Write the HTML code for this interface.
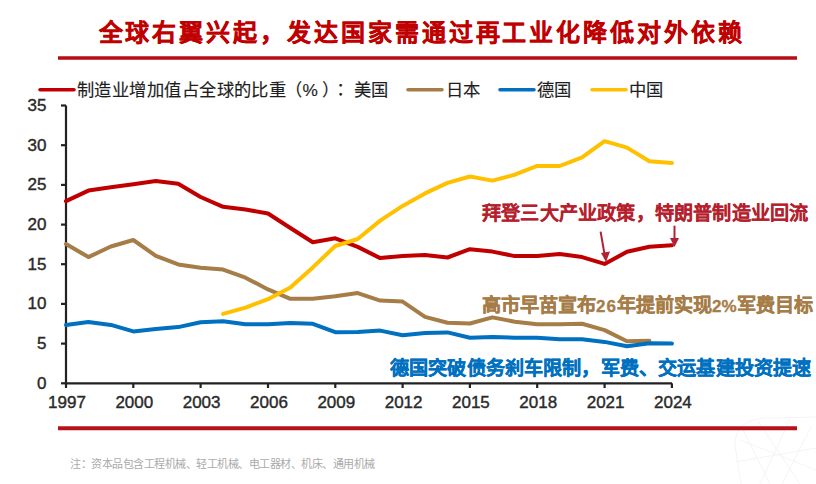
<!DOCTYPE html>
<html lang="zh-CN"><head><meta charset="utf-8"><style>
html,body{margin:0;padding:0;background:#fff;width:816px;height:484px;overflow:hidden}
svg{display:block}
#w{width:816px;height:484px}
text{font-family:"Liberation Sans",sans-serif;text-spacing-trim:space-all}
</style></head><body><div id="w">
<svg width="816" height="484" viewBox="0 0 816 484">
<text x="98.5" y="40.8" font-size="24" font-weight="bold" fill="#C00000" stroke="#C00000" stroke-width="0.3" letter-spacing="2.93">全球右翼兴起，发达国家需通过再工业化降低对外依赖</text>
<line x1="58" y1="58" x2="797" y2="58" stroke="#B50C15" stroke-width="3.4"/>
<g stroke-width="3.6" stroke-linecap="round">
<line x1="40" y1="89.7" x2="74" y2="89.7" stroke="#C00000"/>
<line x1="408" y1="89.7" x2="442" y2="89.7" stroke="#A67C47"/>
<line x1="500" y1="89.7" x2="534" y2="89.7" stroke="#0070C0"/>
<line x1="592" y1="89.7" x2="626" y2="89.7" stroke="#FFC000"/>
</g>
<g font-size="17.3" fill="#1e1e1e" stroke="#1e1e1e" stroke-width="0.15">
<text x="77" y="96.2" letter-spacing="0.45">制造业增加值占全球的比重</text>
<text x="285" y="96.2">（</text>
<text x="302.5" y="96.2">%</text>
<text x="321.5" y="96.2">）</text>
<text x="331.5" y="96.2" lang="zh-TW">：</text>
<text x="354" y="96.2">美国</text>
<text x="446" y="96.2">日本</text>
<text x="537" y="96.2">德国</text>
<text x="629" y="96.2">中国</text>
</g>
<g stroke="#222" stroke-width="2.2" fill="none">
<polyline points="66,105.5 66,383.3 672,383.3"/>
<line x1="61" y1="383.3" x2="66" y2="383.3"/><line x1="61" y1="343.6" x2="66" y2="343.6"/><line x1="61" y1="303.9" x2="66" y2="303.9"/><line x1="61" y1="264.2" x2="66" y2="264.2"/><line x1="61" y1="224.6" x2="66" y2="224.6"/><line x1="61" y1="184.9" x2="66" y2="184.9"/><line x1="61" y1="145.2" x2="66" y2="145.2"/><line x1="61" y1="105.5" x2="66" y2="105.5"/><line x1="66.0" y1="383.3" x2="66.0" y2="388"/><line x1="133.3" y1="383.3" x2="133.3" y2="388"/><line x1="200.6" y1="383.3" x2="200.6" y2="388"/><line x1="268.0" y1="383.3" x2="268.0" y2="388"/><line x1="335.3" y1="383.3" x2="335.3" y2="388"/><line x1="402.6" y1="383.3" x2="402.6" y2="388"/><line x1="469.9" y1="383.3" x2="469.9" y2="388"/><line x1="537.2" y1="383.3" x2="537.2" y2="388"/><line x1="604.6" y1="383.3" x2="604.6" y2="388"/><line x1="671.9" y1="383.3" x2="671.9" y2="388"/>
</g>
<g font-size="17" fill="#2a2a2a" stroke="#2a2a2a" stroke-width="0.4"><text x="46.5" y="388.6" text-anchor="end">0</text><text x="46.5" y="348.9" text-anchor="end">5</text><text x="46.5" y="309.2" text-anchor="end">10</text><text x="46.5" y="269.5" text-anchor="end">15</text><text x="46.5" y="229.9" text-anchor="end">20</text><text x="46.5" y="190.2" text-anchor="end">25</text><text x="46.5" y="150.5" text-anchor="end">30</text><text x="46.5" y="110.8" text-anchor="end">35</text><text x="67.0" y="408.3" text-anchor="middle">1997</text><text x="134.3" y="408.3" text-anchor="middle">2000</text><text x="201.6" y="408.3" text-anchor="middle">2003</text><text x="269.0" y="408.3" text-anchor="middle">2006</text><text x="336.3" y="408.3" text-anchor="middle">2009</text><text x="403.6" y="408.3" text-anchor="middle">2012</text><text x="470.9" y="408.3" text-anchor="middle">2015</text><text x="538.2" y="408.3" text-anchor="middle">2018</text><text x="605.6" y="408.3" text-anchor="middle">2021</text><text x="672.9" y="408.3" text-anchor="middle">2024</text></g>
<g fill="none" stroke-width="4" stroke-linejoin="round" stroke-linecap="round">
<path d="M66.0,201.1 L88.4,190.6 L110.9,187.3 L133.3,184.2 L155.8,180.9 L178.2,183.7 L200.6,197.0 L223.1,206.8 L245.5,209.5 L268.0,213.5 L290.4,228.0 L312.8,242.2 L335.3,238.3 L357.7,246.9 L380.2,258.1 L402.6,255.9 L425.0,254.9 L447.5,257.5 L469.9,249.2 L492.4,251.6 L514.8,256.1 L537.2,256.1 L559.7,254.1 L582.1,257.1 L604.6,263.9 L627.0,251.8 L649.4,246.7 L671.9,245.3" stroke="#C00000"/>
<path d="M66.0,244.0 L88.4,257.1 L110.9,246.5 L133.3,240.0 L155.8,255.8 L178.2,264.4 L200.6,267.7 L223.1,269.6 L245.5,277.7 L268.0,289.4 L290.4,298.8 L312.8,298.8 L335.3,296.2 L357.7,293.1 L380.2,300.6 L402.6,301.6 L425.0,316.9 L447.5,322.7 L469.9,323.5 L492.4,317.4 L514.8,321.7 L537.2,324.3 L559.7,324.3 L582.1,323.8 L604.6,330.1 L627.0,341.2 L649.4,340.8" stroke="#A67C47"/>
<path d="M66.0,325.1 L88.4,322.0 L110.9,324.9 L133.3,331.4 L155.8,329.0 L178.2,327.1 L200.6,322.2 L223.1,321.3 L245.5,324.3 L268.0,324.3 L290.4,323.1 L312.8,323.8 L335.3,332.2 L357.7,332.1 L380.2,330.6 L402.6,335.3 L425.0,332.9 L447.5,332.4 L469.9,337.8 L492.4,337.0 L514.8,337.7 L537.2,337.7 L559.7,339.2 L582.1,339.3 L604.6,341.9 L627.0,346.2 L649.4,343.2 L671.9,343.6" stroke="#0070C0"/>
<path d="M223.1,313.9 L245.5,307.6 L268.0,299.2 L290.4,287.5 L312.8,267.4 L335.3,246.0 L357.7,239.0 L380.2,220.6 L402.6,205.9 L425.0,193.4 L447.5,182.9 L469.9,176.5 L492.4,180.6 L514.8,174.7 L537.2,165.9 L559.7,166.0 L582.1,157.3 L604.6,141.2 L627.0,147.6 L649.4,161.2 L671.9,163.1" stroke="#FFC000"/>
</g>
<g stroke="#B22234" stroke-width="2" fill="#B22234">
<line x1="600.6" y1="231.6" x2="604.5" y2="254"/>
<polygon points="601,253 610,251.5 606,262" stroke="none"/>
<line x1="674.5" y1="225.7" x2="674.5" y2="240"/>
<polygon points="670,238 679,238 674.5,247" stroke="none"/>
</g>
<g font-size="19.15" font-weight="bold" stroke-width="0.3">
<text x="482" y="219.5" fill="#B51F2E" stroke="#B51F2E" stroke-width="0.1" letter-spacing="0.2">拜登三大产业政策，特朗普制造业回流</text>
<text x="482" y="311.5" fill="#A67C47" stroke="#A67C47">高市早苗宣布<tspan font-size="17" letter-spacing="1">26</tspan>年提前实现<tspan font-size="17">2%</tspan>军费目标</text>
<text x="390" y="374.5" fill="#0070C0" stroke="#0070C0" letter-spacing="0.15">德国突破债务刹车限制，军费、交运基建投资提速</text>
</g>
<g fill="none" stroke="#f3f4f6" stroke-width="1">
<path d="M735,445 Q735,420 765,418 L816,417"/>
<path d="M735,445 L741,484"/>
<path d="M742,428 L770,484 M758,421 L800,484 M790,419 L760,484 M812,425 L782,484 M735,462 L816,448 M740,440 L816,470"/>
</g>
<line x1="58" y1="428.2" x2="797" y2="428.2" stroke="#B5121B" stroke-width="3.9"/>
<text x="70" y="467.5" font-size="11" letter-spacing="-0.5" fill="#aaa">注：资本品包含工程机械、轻工机械、电工器材、机床、通用机械</text>
</svg></div>
</body></html>
